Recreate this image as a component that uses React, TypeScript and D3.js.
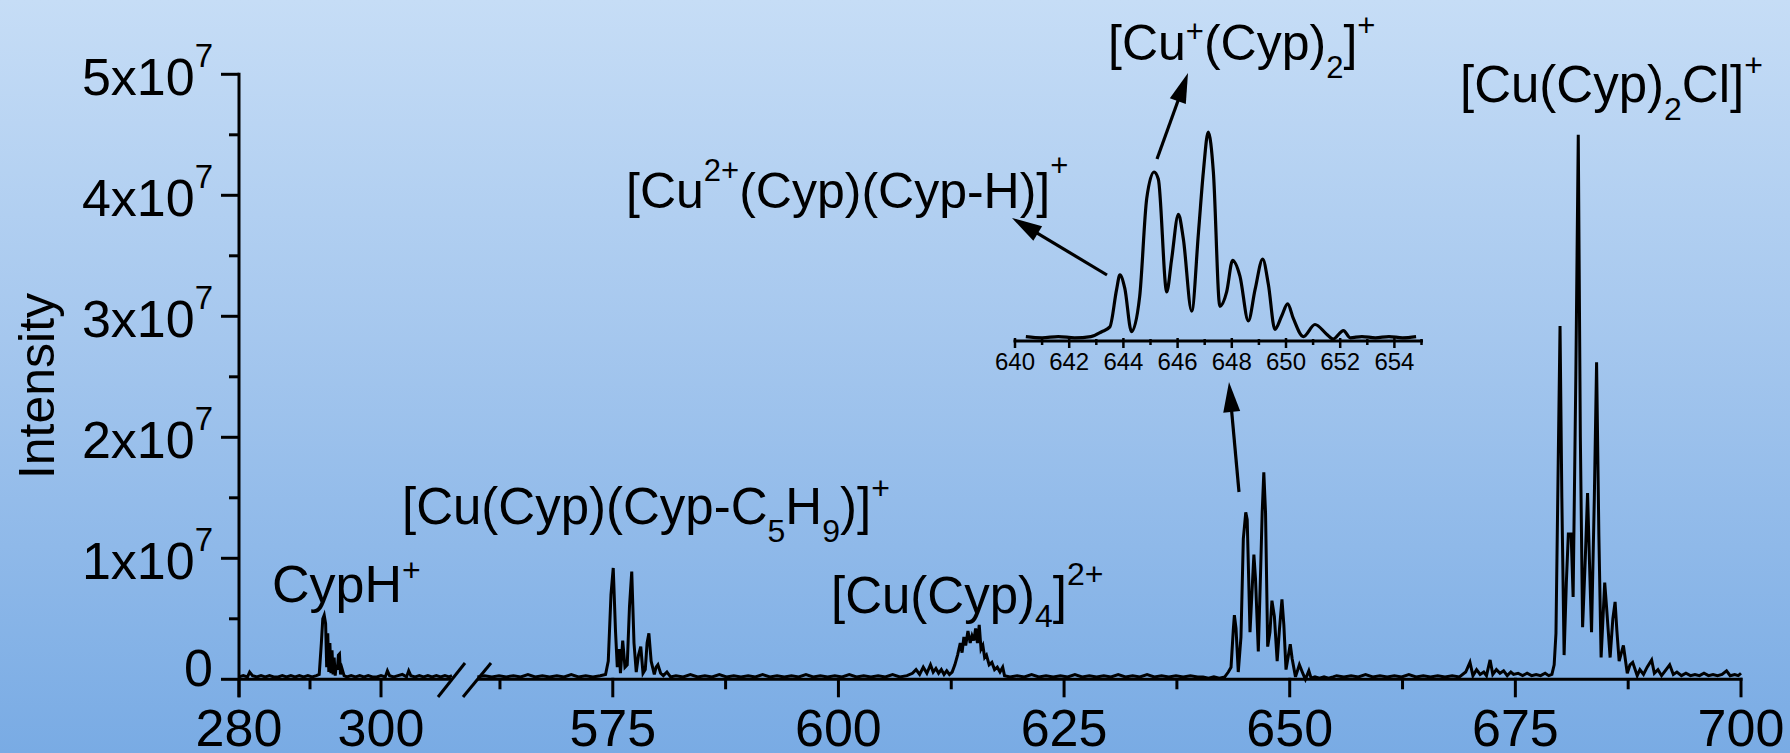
import React from 'react';
import * as d3 from 'd3';

// ---------- data (intensity in units of 1e7) ----------
const yTickValues = [0, 1, 2, 3, 4, 5];
const yMinorValues = [0.5, 1.5, 2.5, 3.5, 4.5];
const xTicksLeft = [280, 300];
const xMinorLeft = [290];
const xTicksRight = [575, 600, 625, 650, 675, 700];
const xMinorRight = [562.5, 587.5, 612.5, 637.5, 662.5, 687.5];
const insetTicks = [640, 642, 644, 646, 648, 650, 652, 654];
const insetMinor = [641, 643, 645, 647, 649, 651, 653, 655];

const mzLeft = [280, 280.6, 281.2, 281.5, 281.9, 282.5, 283.1, 283.7, 284.3, 284.9, 285.5, 286.1, 286.7, 287.3, 287.9, 288.5, 289.1, 289.7, 290.3, 290.9, 291.3, 291.6, 291.8, 292.0, 292.2, 292.35, 292.5, 292.65, 292.8, 292.95, 293.1, 293.25, 293.4, 293.55, 293.7, 293.85, 294.0, 294.15, 294.3, 294.5, 294.8, 295.2, 295.8, 296.4, 297.0, 297.6, 298.2, 298.8, 299.4, 300.0, 300.6, 300.9, 301.2, 301.8, 302.4, 303.0, 303.6, 303.9, 304.2, 304.8, 305.4, 306.0, 306.6, 307.2, 307.8, 308.4, 309.0, 309.6, 310];
const intLeft = [0.02, 0.03, 0.02, 0.06, 0.03, 0.02, 0.03, 0.02, 0.03, 0.02, 0.02, 0.03, 0.02, 0.03, 0.02, 0.03, 0.02, 0.03, 0.02, 0.03, 0.04, 0.3, 0.5, 0.53, 0.46, 0.1, 0.38, 0.06, 0.3, 0.05, 0.24, 0.04, 0.18, 0.03, 0.12, 0.08, 0.2, 0.21, 0.04, 0.09, 0.03, 0.02, 0.03, 0.02, 0.03, 0.02, 0.03, 0.02, 0.02, 0.03, 0.02, 0.07, 0.03, 0.02, 0.03, 0.04, 0.02, 0.07, 0.03, 0.02, 0.03, 0.02, 0.03, 0.02, 0.03, 0.02, 0.03, 0.02, 0.03];

const mzRight = [560, 560.8, 561.6, 562.4, 563.2, 564, 564.8, 565.6, 566.4, 567.2, 568, 568.8, 569.6, 570.4, 571.2, 572, 572.8, 573.6, 574.2, 574.5, 574.8, 575.05, 575.3, 575.5, 575.7, 575.85, 576.1, 576.35, 576.6, 576.85, 577.1, 577.35, 577.6, 577.85, 578.1, 578.35, 578.6, 578.8, 579.0, 579.25, 579.6, 579.8, 580.0, 580.3, 580.6, 581.0, 581.4, 582, 582.8, 583.6, 584.4, 585.2, 586, 586.8, 587.6, 588.4, 589.2, 590, 590.8, 591.6, 592.4, 593.2, 594, 594.8, 595.6, 596.4, 597.2, 598, 598.8, 599.6, 600.4, 601.2, 602, 602.8, 603.6, 604.4, 605.2, 606, 606.8, 607.6, 608.2, 608.6, 609.0, 609.4, 609.8, 610.2, 610.5, 610.8, 611.1, 611.4, 611.7, 612.0, 612.3, 612.6, 612.9, 613.2, 613.5, 613.7, 613.9, 614.1, 614.35, 614.6, 614.8, 615.0, 615.2, 615.4, 615.6, 615.8, 616.0, 616.2, 616.4, 616.7, 617.0, 617.3, 617.6, 617.9, 618.2, 618.4, 619, 619.8, 620.6, 621.4, 622.2, 623, 623.8, 624.6, 625.4, 626.2, 627, 627.8, 628.6, 629.4, 630.2, 631, 631.8, 632.6, 633.4, 634.2, 635, 635.8, 636.6, 637.4, 638.2, 639, 639.8, 640.4, 641.0, 641.6, 642.2, 642.8, 643.2, 643.5, 643.75, 643.87, 644.05, 644.3, 644.6, 644.86, 645.13, 645.29, 645.6, 645.78, 646.03, 646.21, 646.52, 646.77, 646.95, 647.13, 647.32, 647.56, 647.81, 648.03, 648.3, 648.61, 648.86, 649.14, 649.35, 649.59, 649.84, 650.06, 650.27, 650.64, 651.07, 651.5, 651.74, 652.12, 652.37, 652.8, 653.3, 653.8, 654.3, 654.8, 655.2, 656, 656.8, 657.6, 658.4, 659.2, 660, 660.8, 661.6, 662.4, 663.2, 664, 664.8, 665.6, 666.4, 667.2, 668, 668.8, 669.5, 669.97, 670.3, 670.7, 671.1, 671.5, 671.8, 672.2, 672.5, 672.9, 673.3, 673.7, 674.1, 674.5, 674.8, 675.3, 675.8, 676.3, 676.8, 677.3, 677.8, 678.3, 678.7, 679.05, 679.3, 679.5, 679.75, 679.95, 680.15, 680.4, 680.65, 680.87, 681.18, 681.4, 681.7, 681.97, 682.2, 682.45, 682.75, 683.0, 683.2, 683.44, 683.75, 684.0, 684.25, 684.5, 684.9, 685.1, 685.5, 685.8, 686.05, 686.25, 686.5, 686.97, 687.4, 687.7, 688.0, 688.5, 688.8, 689.2, 689.6, 690.1, 690.4, 690.8, 691.2, 691.6, 692.1, 692.5, 692.9, 693.4, 693.9, 694.4, 694.9, 695.4, 695.9, 696.4, 696.9, 697.4, 697.9, 698.4, 698.8, 699.3, 699.7, 700];
const intRight = [0.02, 0.03, 0.02, 0.03, 0.02, 0.03, 0.02, 0.04, 0.02, 0.03, 0.02, 0.03, 0.02, 0.04, 0.02, 0.03, 0.02, 0.03, 0.04, 0.15, 0.7, 0.92, 0.4, 0.1, 0.25, 0.05, 0.32, 0.1, 0.12, 0.6, 0.89, 0.3, 0.06, 0.2, 0.27, 0.05, 0.08, 0.3, 0.38, 0.15, 0.04, 0.1, 0.12, 0.05, 0.03, 0.06, 0.02, 0.03, 0.02, 0.04, 0.02, 0.03, 0.02, 0.04, 0.02, 0.03, 0.02, 0.03, 0.02, 0.04, 0.02, 0.03, 0.02, 0.03, 0.02, 0.04, 0.02, 0.03, 0.02, 0.03, 0.02, 0.04, 0.02, 0.03, 0.02, 0.03, 0.02, 0.04, 0.02, 0.03, 0.05, 0.08, 0.04, 0.1, 0.05, 0.12, 0.06, 0.09, 0.05, 0.08, 0.04, 0.07, 0.04, 0.06, 0.12, 0.2, 0.3, 0.22, 0.35, 0.28, 0.4, 0.3, 0.36, 0.32, 0.42, 0.3, 0.45, 0.25, 0.28, 0.18, 0.2, 0.12, 0.14, 0.08, 0.1, 0.06, 0.1, 0.03, 0.02, 0.03, 0.02, 0.04, 0.02, 0.03, 0.02, 0.03, 0.02, 0.04, 0.02, 0.03, 0.02, 0.03, 0.02, 0.04, 0.02, 0.03, 0.02, 0.04, 0.02, 0.03, 0.02, 0.03, 0.02, 0.03, 0.02, 0.02, 0.01, 0.02, 0.01, 0.02, 0.06, 0.1, 0.41, 0.53, 0.42, 0.06, 0.35, 1.16, 1.38, 1.32, 0.39, 0.66, 1.03, 0.83, 0.23, 0.88, 1.38, 1.71, 1.38, 0.27, 0.39, 0.65, 0.52, 0.15, 0.41, 0.66, 0.45, 0.08, 0.19, 0.29, 0.17, 0.02, 0.12, 0.04, 0.0, 0.07, 0.01, 0.02, 0.01, 0.02, 0.01, 0.02, 0.03, 0.02, 0.03, 0.02, 0.04, 0.02, 0.03, 0.02, 0.03, 0.02, 0.04, 0.02, 0.03, 0.02, 0.03, 0.02, 0.03, 0.02, 0.06, 0.14, 0.03, 0.08, 0.04, 0.06, 0.03, 0.16, 0.04, 0.08, 0.05, 0.07, 0.03, 0.06, 0.04, 0.05, 0.03, 0.05, 0.03, 0.04, 0.03, 0.05, 0.03, 0.04, 0.12, 0.38, 1.8, 2.92, 1.5, 0.2, 0.8, 1.2, 1.2, 0.68, 2.5, 4.5, 2.0, 0.43, 1.0, 1.54, 1.0, 0.39, 1.5, 2.62, 1.2, 0.18, 0.8, 0.6, 0.18, 0.5, 0.64, 0.4, 0.15, 0.28, 0.05, 0.12, 0.14, 0.03, 0.08, 0.04, 0.1, 0.16, 0.05, 0.08, 0.03, 0.07, 0.12, 0.04, 0.06, 0.03, 0.05, 0.03, 0.04, 0.03, 0.05, 0.03, 0.04, 0.03, 0.04, 0.07, 0.03, 0.04, 0.03, 0.05];

// ---------- layout ----------
const W = 1790, H = 753;
const FONT = "'Liberation Sans', Arial, Helvetica, sans-serif";

type Seg = { t: string; dy?: number; small?: boolean };

function Rich({ x, y, size, small, segs, anchor }: { x: number; y: number; size: number; small: number; segs: Seg[]; anchor?: string }) {
  let cur = 0;
  return (
    <text x={x} y={y} fontSize={size} fontFamily={FONT} fill="#000" textAnchor={anchor || 'start'}>
      {segs.map((s, i) => {
        const target = s.dy ?? 0;
        const d = target - cur;
        cur = target;
        return (
          <tspan key={i} dy={d} fontSize={s.small ? small : size}>
            {s.t}
          </tspan>
        );
      })}
    </text>
  );
}

function Arrow({ x1, y1, x2, y2 }: { x1: number; y1: number; x2: number; y2: number }) {
  const L = Math.hypot(x2 - x1, y2 - y1);
  const ux = (x2 - x1) / L, uy = (y2 - y1) / L;
  const hl = 30, hw = 8.5;
  const bx = x2 - ux * hl, by = y2 - uy * hl;
  const px = -uy, py = ux;
  const pts = `${x2},${y2} ${bx + px * hw},${by + py * hw} ${bx - px * hw},${by - py * hw}`;
  return (
    <g>
      <line x1={x1} y1={y1} x2={bx + ux * 4} y2={by + uy * 4} stroke="#000" strokeWidth={3.2} />
      <polygon points={pts} fill="#000" />
    </g>
  );
}

export default function App() {
  const y = d3.scaleLinear().domain([0, 5]).range([679.3, 74.3]);
  const xL = d3.scaleLinear().domain([280, 310]).range([239, 452]);
  const xR = d3.scaleLinear().domain([560, 700]).range([477.4, 1741]);
  const xi = d3.scaleLinear().domain([640, 655]).range([1015, 1421.5]);
  const yi = d3.scaleLinear().domain([0, 5]).range([339, 339 - 605]);

  const left = mzLeft.map((m, i) => [m, intLeft[i]] as [number, number]);
  const right = mzRight.map((m, i) => [m, intRight[i]] as [number, number]);
  const inset = right.filter(d => d[0] >= 640 && d[0] <= 655);

  const lineL = d3.line<[number, number]>().x(d => xL(d[0])).y(d => y(d[1]));
  const lineR = d3.line<[number, number]>().x(d => xR(d[0])).y(d => y(d[1]));
  const lineI = d3.line<[number, number]>().x(d => xi(d[0])).y(d => yi(d[1])).curve(d3.curveMonotoneX);

  const axisY = 679.3;
  const labelSize = 52;

  return (
    <svg width={W} height={H} style={{ position: 'absolute', left: 0, top: 0, display: 'block' }}>
      <defs>
        <linearGradient id="bg" x1="0" y1="0" x2="0" y2="1">
          <stop offset="0" stopColor="#c6ddf6" />
          <stop offset="0.45" stopColor="#a5c7ee" />
          <stop offset="1" stopColor="#79abe4" />
        </linearGradient>
      </defs>
      <rect x={0} y={0} width={W} height={H} fill="url(#bg)" />

      {/* data */}
      <path d={lineL(left) || ''} fill="none" stroke="#000" strokeWidth={3} strokeLinejoin="miter" strokeMiterlimit={4} />
      <path d={lineR(right) || ''} fill="none" stroke="#000" strokeWidth={3} strokeLinejoin="miter" strokeMiterlimit={4} />

      {/* y axis */}
      <line x1={239} x2={239} y1={y(5) - 1.5} y2={axisY + 18} stroke="#000" strokeWidth={3} />
      {yTickValues.map(v => (
        <line key={'yt' + v} x1={221} x2={239} y1={y(v)} y2={y(v)} stroke="#000" strokeWidth={3} />
      ))}
      {yMinorValues.map(v => (
        <line key={'ym' + v} x1={229} x2={239} y1={y(v)} y2={y(v)} stroke="#000" strokeWidth={3} />
      ))}
      {yTickValues.map(v =>
        v === 0 ? (
          <text key={'yl' + v} x={213} y={686} fontSize={labelSize} fontFamily={FONT} textAnchor="end">0</text>
        ) : (
          <Rich key={'yl' + v} x={213} y={y(v) + 21} size={labelSize} small={33} anchor="end"
            segs={[{ t: `${v}x10` }, { t: '7', small: true, dy: -28 }]} />
        )
      )}
      <text transform={`translate(54,386) rotate(-90)`} fontSize={50} fontFamily={FONT} textAnchor="middle">Intensity</text>

      {/* x axis */}
      <line x1={239} x2={451} y1={axisY} y2={axisY} stroke="#000" strokeWidth={3} />
      <line x1={477} x2={1742.5} y1={axisY} y2={axisY} stroke="#000" strokeWidth={3} />
      <line x1={438} y1={697} x2={465} y2={663} stroke="#000" strokeWidth={3} />
      <line x1={463} y1={697} x2={491} y2={663} stroke="#000" strokeWidth={3} />
      {xTicksLeft.map(v => (
        <line key={'xlt' + v} x1={xL(v)} x2={xL(v)} y1={axisY} y2={axisY + 18} stroke="#000" strokeWidth={3} />
      ))}
      {xMinorLeft.map(v => (
        <line key={'xlm' + v} x1={xL(v)} x2={xL(v)} y1={axisY} y2={axisY + 10} stroke="#000" strokeWidth={3} />
      ))}
      {xTicksRight.map(v => (
        <line key={'xrt' + v} x1={xR(v)} x2={xR(v)} y1={axisY - 1.5} y2={axisY + 18} stroke="#000" strokeWidth={3} />
      ))}
      {xMinorRight.map(v => (
        <line key={'xrm' + v} x1={xR(v)} x2={xR(v)} y1={axisY} y2={axisY + 10} stroke="#000" strokeWidth={3} />
      ))}
      {xTicksLeft.map(v => (
        <text key={'xll' + v} x={xL(v)} y={746} fontSize={labelSize} fontFamily={FONT} textAnchor="middle">{v}</text>
      ))}
      {xTicksRight.map(v => (
        <text key={'xrl' + v} x={xR(v)} y={746} fontSize={labelSize} fontFamily={FONT} textAnchor="middle">{v}</text>
      ))}

      {/* inset */}
      <path d={lineI(inset) || ''} fill="none" stroke="#000" strokeWidth={3.2} />
      <line x1={xi(640) - 1.5} x2={xi(655) + 1.5} y1={341} y2={341} stroke="#000" strokeWidth={3} />
      {insetTicks.map(v => (
        <line key={'it' + v} x1={xi(v)} x2={xi(v)} y1={338} y2={348} stroke="#000" strokeWidth={2.5} />
      ))}
      {insetMinor.map(v => (
        <line key={'im' + v} x1={xi(v)} x2={xi(v)} y1={339} y2={345} stroke="#000" strokeWidth={2.5} />
      ))}
      {insetTicks.map(v => (
        <text key={'il' + v} x={xi(v)} y={370} fontSize={24} fontFamily={FONT} textAnchor="middle">{v}</text>
      ))}

      {/* arrows */}
      <Arrow x1={1107} y1={275} x2={1012} y2={218} />
      <Arrow x1={1157} y1={159} x2={1188} y2={73} />
      <Arrow x1={1239} y1={492} x2={1229} y2={382} />

      {/* annotations */}
      <Rich x={272} y={602} size={52} small={32} segs={[{ t: 'CypH' }, { t: '+', small: true, dy: -21 }]} />
      <Rich x={402} y={524} size={51} small={32}
        segs={[{ t: '[Cu(Cyp)(Cyp-C' }, { t: '5', small: true, dy: 18 }, { t: 'H' }, { t: '9', small: true, dy: 18 }, { t: ')]' }, { t: '+', small: true, dy: -25 }]} />
      <Rich x={831} y={613} size={51} small={32}
        segs={[{ t: '[Cu(Cyp)' }, { t: '4', small: true, dy: 14 }, { t: ']' }, { t: '2+', small: true, dy: -28 }]} />
      <Rich x={626} y={208} size={50} small={31}
        segs={[{ t: '[Cu' }, { t: '2+', small: true, dy: -27 }, { t: '(Cyp)(Cyp-H)]' }, { t: '+', small: true, dy: -32 }]} />
      <Rich x={1108} y={60} size={50} small={31}
        segs={[{ t: '[Cu' }, { t: '+', small: true, dy: -18 }, { t: '(Cyp)' }, { t: '2', small: true, dy: 18 }, { t: ']' }, { t: '+', small: true, dy: -24 }]} />
      <Rich x={1460} y={102} size={51} small={32}
        segs={[{ t: '[Cu(Cyp)' }, { t: '2', small: true, dy: 18 }, { t: 'Cl]' }, { t: '+', small: true, dy: -26 }]} />
    </svg>
  );
}
